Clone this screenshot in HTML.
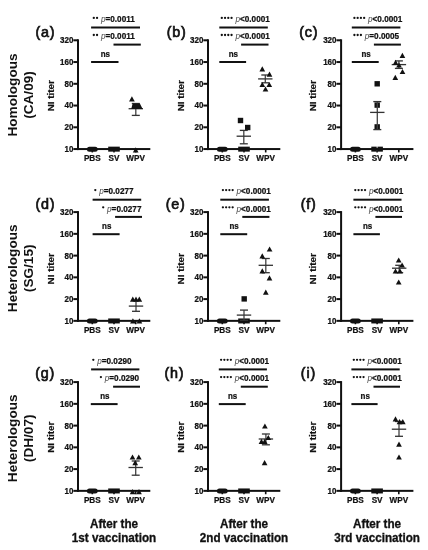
<!DOCTYPE html>
<html><head><meta charset="utf-8"><style>
html,body{margin:0;padding:0;background:#fff;}
body{width:428px;height:550px;overflow:hidden;}
svg{display:block;will-change:transform;filter:blur(0.35px);}
text{font-family:"Liberation Sans", sans-serif;fill:#111;}
</style></head><body>
<svg width="428" height="550" viewBox="0 0 428 550">
<rect width="428" height="550" fill="#fff"/>
<g><rect x="77.00" y="39.30" width="2.0" height="110.75" fill="#111"/><rect x="77.00" y="148.05" width="73.30" height="2.0" fill="#111"/><rect x="73.40" y="39.30" width="4.60" height="2.0" fill="#111"/><text transform="translate(73.40 43.20) scale(1 1.1)" font-size="8" font-weight="bold" text-anchor="end" stroke="#111" stroke-width="0.22">320</text><rect x="73.40" y="61.05" width="4.60" height="2.0" fill="#111"/><text transform="translate(73.40 64.95) scale(1 1.1)" font-size="8" font-weight="bold" text-anchor="end" stroke="#111" stroke-width="0.22">160</text><rect x="73.40" y="82.80" width="4.60" height="2.0" fill="#111"/><text transform="translate(73.40 86.70) scale(1 1.1)" font-size="8" font-weight="bold" text-anchor="end" stroke="#111" stroke-width="0.22">80</text><rect x="73.40" y="104.55" width="4.60" height="2.0" fill="#111"/><text transform="translate(73.40 108.45) scale(1 1.1)" font-size="8" font-weight="bold" text-anchor="end" stroke="#111" stroke-width="0.22">40</text><rect x="73.40" y="126.30" width="4.60" height="2.0" fill="#111"/><text transform="translate(73.40 130.20) scale(1 1.1)" font-size="8" font-weight="bold" text-anchor="end" stroke="#111" stroke-width="0.22">20</text><rect x="73.40" y="148.05" width="4.60" height="2.0" fill="#111"/><text transform="translate(73.40 151.95) scale(1 1.1)" font-size="8" font-weight="bold" text-anchor="end" stroke="#111" stroke-width="0.22">10</text><rect x="91.50" y="149.05" width="1.6" height="3.40" fill="#111"/><text transform="translate(92.30 161.15) scale(1 1.1)" font-size="8.2" font-weight="bold" text-anchor="middle" stroke="#111" stroke-width="0.22">PBS</text><rect x="113.20" y="149.05" width="1.6" height="3.40" fill="#111"/><text transform="translate(114.00 161.15) scale(1 1.1)" font-size="8.2" font-weight="bold" text-anchor="middle" stroke="#111" stroke-width="0.22">SV</text><rect x="134.90" y="149.05" width="1.6" height="3.40" fill="#111"/><text transform="translate(135.70 161.15) scale(1 1.1)" font-size="8.2" font-weight="bold" text-anchor="middle" stroke="#111" stroke-width="0.22">WPV</text><text font-size="9" font-weight="bold" text-anchor="middle" stroke="#111" stroke-width="0.2" transform="translate(54.30 95.70) rotate(-90) scale(1.1 1)">NI titer</text><text transform="translate(45.40 37.40) scale(1 1.0)" font-size="14.3" font-weight="normal" text-anchor="middle" letter-spacing="0.8" stroke="#111" stroke-width="0.7">(a)</text><rect x="91.10" y="26.50" width="48.90" height="2.0" fill="#111"/><rect x="113.50" y="43.60" width="27.30" height="2.0" fill="#111"/><rect x="91.10" y="61.00" width="27.40" height="2.0" fill="#111"/><circle cx="93.80" cy="17.90" r="1.15" fill="#111"/><circle cx="97.05" cy="17.90" r="1.15" fill="#111"/><text transform="translate(100.90 22.20) scale(1 1.1)" font-size="8.2" font-weight="bold"><tspan font-style="italic" font-weight="normal" fill="#444">p</tspan><tspan stroke="#111" stroke-width="0.22">=0.0011</tspan></text><circle cx="93.80" cy="35.00" r="1.15" fill="#111"/><circle cx="97.05" cy="35.00" r="1.15" fill="#111"/><text transform="translate(100.90 39.30) scale(1 1.1)" font-size="8.2" font-weight="bold"><tspan font-style="italic" font-weight="normal" fill="#444">p</tspan><tspan stroke="#111" stroke-width="0.22">=0.0011</tspan></text><text transform="translate(100.70 56.70) scale(1 1.1)" font-size="8" font-weight="bold" text-anchor="start" stroke="#111" stroke-width="0.22">ns</text><rect x="86.90" y="146.65" width="10.8" height="5.0" rx="2.5" fill="#111"/></g><g><rect x="207.00" y="39.30" width="2.0" height="110.75" fill="#111"/><rect x="207.00" y="148.05" width="73.30" height="2.0" fill="#111"/><rect x="203.40" y="39.30" width="4.60" height="2.0" fill="#111"/><text transform="translate(203.40 43.20) scale(1 1.1)" font-size="8" font-weight="bold" text-anchor="end" stroke="#111" stroke-width="0.22">320</text><rect x="203.40" y="61.05" width="4.60" height="2.0" fill="#111"/><text transform="translate(203.40 64.95) scale(1 1.1)" font-size="8" font-weight="bold" text-anchor="end" stroke="#111" stroke-width="0.22">160</text><rect x="203.40" y="82.80" width="4.60" height="2.0" fill="#111"/><text transform="translate(203.40 86.70) scale(1 1.1)" font-size="8" font-weight="bold" text-anchor="end" stroke="#111" stroke-width="0.22">80</text><rect x="203.40" y="104.55" width="4.60" height="2.0" fill="#111"/><text transform="translate(203.40 108.45) scale(1 1.1)" font-size="8" font-weight="bold" text-anchor="end" stroke="#111" stroke-width="0.22">40</text><rect x="203.40" y="126.30" width="4.60" height="2.0" fill="#111"/><text transform="translate(203.40 130.20) scale(1 1.1)" font-size="8" font-weight="bold" text-anchor="end" stroke="#111" stroke-width="0.22">20</text><rect x="203.40" y="148.05" width="4.60" height="2.0" fill="#111"/><text transform="translate(203.40 151.95) scale(1 1.1)" font-size="8" font-weight="bold" text-anchor="end" stroke="#111" stroke-width="0.22">10</text><rect x="221.50" y="149.05" width="1.6" height="3.40" fill="#111"/><text transform="translate(222.30 161.15) scale(1 1.1)" font-size="8.2" font-weight="bold" text-anchor="middle" stroke="#111" stroke-width="0.22">PBS</text><rect x="243.20" y="149.05" width="1.6" height="3.40" fill="#111"/><text transform="translate(244.00 161.15) scale(1 1.1)" font-size="8.2" font-weight="bold" text-anchor="middle" stroke="#111" stroke-width="0.22">SV</text><rect x="264.90" y="149.05" width="1.6" height="3.40" fill="#111"/><text transform="translate(265.70 161.15) scale(1 1.1)" font-size="8.2" font-weight="bold" text-anchor="middle" stroke="#111" stroke-width="0.22">WPV</text><text font-size="9" font-weight="bold" text-anchor="middle" stroke="#111" stroke-width="0.2" transform="translate(183.70 95.70) rotate(-90) scale(1.1 1)">NI titer</text><text transform="translate(176.70 37.40) scale(1 1.0)" font-size="14.3" font-weight="normal" text-anchor="middle" letter-spacing="0.8" stroke="#111" stroke-width="0.7">(b)</text><rect x="219.30" y="26.50" width="48.50" height="2.0" fill="#111"/><rect x="241.10" y="43.60" width="27.40" height="2.0" fill="#111"/><rect x="219.30" y="61.00" width="26.80" height="2.0" fill="#111"/><circle cx="221.80" cy="17.90" r="1.15" fill="#111"/><circle cx="225.05" cy="17.90" r="1.15" fill="#111"/><circle cx="228.30" cy="17.90" r="1.15" fill="#111"/><circle cx="231.55" cy="17.90" r="1.15" fill="#111"/><text transform="translate(235.40 22.20) scale(1 1.1)" font-size="8.2" font-weight="bold"><tspan font-style="italic" font-weight="normal" fill="#444">p</tspan><tspan stroke="#111" stroke-width="0.22">&lt;0.0001</tspan></text><circle cx="221.80" cy="35.00" r="1.15" fill="#111"/><circle cx="225.05" cy="35.00" r="1.15" fill="#111"/><circle cx="228.30" cy="35.00" r="1.15" fill="#111"/><circle cx="231.55" cy="35.00" r="1.15" fill="#111"/><text transform="translate(235.40 39.30) scale(1 1.1)" font-size="8.2" font-weight="bold"><tspan font-style="italic" font-weight="normal" fill="#444">p</tspan><tspan stroke="#111" stroke-width="0.22">&lt;0.0001</tspan></text><text transform="translate(228.70 56.70) scale(1 1.1)" font-size="8" font-weight="bold" text-anchor="start" stroke="#111" stroke-width="0.22">ns</text><rect x="216.90" y="146.65" width="10.8" height="5.0" rx="2.5" fill="#111"/></g><g><rect x="340.10" y="39.30" width="2.0" height="110.75" fill="#111"/><rect x="340.10" y="148.05" width="73.30" height="2.0" fill="#111"/><rect x="336.50" y="39.30" width="4.60" height="2.0" fill="#111"/><text transform="translate(336.50 43.20) scale(1 1.1)" font-size="8" font-weight="bold" text-anchor="end" stroke="#111" stroke-width="0.22">320</text><rect x="336.50" y="61.05" width="4.60" height="2.0" fill="#111"/><text transform="translate(336.50 64.95) scale(1 1.1)" font-size="8" font-weight="bold" text-anchor="end" stroke="#111" stroke-width="0.22">160</text><rect x="336.50" y="82.80" width="4.60" height="2.0" fill="#111"/><text transform="translate(336.50 86.70) scale(1 1.1)" font-size="8" font-weight="bold" text-anchor="end" stroke="#111" stroke-width="0.22">80</text><rect x="336.50" y="104.55" width="4.60" height="2.0" fill="#111"/><text transform="translate(336.50 108.45) scale(1 1.1)" font-size="8" font-weight="bold" text-anchor="end" stroke="#111" stroke-width="0.22">40</text><rect x="336.50" y="126.30" width="4.60" height="2.0" fill="#111"/><text transform="translate(336.50 130.20) scale(1 1.1)" font-size="8" font-weight="bold" text-anchor="end" stroke="#111" stroke-width="0.22">20</text><rect x="336.50" y="148.05" width="4.60" height="2.0" fill="#111"/><text transform="translate(336.50 151.95) scale(1 1.1)" font-size="8" font-weight="bold" text-anchor="end" stroke="#111" stroke-width="0.22">10</text><rect x="354.60" y="149.05" width="1.6" height="3.40" fill="#111"/><text transform="translate(355.40 161.15) scale(1 1.1)" font-size="8.2" font-weight="bold" text-anchor="middle" stroke="#111" stroke-width="0.22">PBS</text><rect x="376.30" y="149.05" width="1.6" height="3.40" fill="#111"/><text transform="translate(377.10 161.15) scale(1 1.1)" font-size="8.2" font-weight="bold" text-anchor="middle" stroke="#111" stroke-width="0.22">SV</text><rect x="398.00" y="149.05" width="1.6" height="3.40" fill="#111"/><text transform="translate(398.80 161.15) scale(1 1.1)" font-size="8.2" font-weight="bold" text-anchor="middle" stroke="#111" stroke-width="0.22">WPV</text><text font-size="9" font-weight="bold" text-anchor="middle" stroke="#111" stroke-width="0.2" transform="translate(316.20 95.70) rotate(-90) scale(1.1 1)">NI titer</text><text transform="translate(308.80 37.40) scale(1 1.0)" font-size="14.3" font-weight="normal" text-anchor="middle" letter-spacing="0.8" stroke="#111" stroke-width="0.7">(c)</text><rect x="351.80" y="26.50" width="48.60" height="2.0" fill="#111"/><rect x="373.90" y="43.60" width="27.00" height="2.0" fill="#111"/><rect x="351.80" y="61.00" width="26.90" height="2.0" fill="#111"/><circle cx="354.40" cy="17.90" r="1.15" fill="#111"/><circle cx="357.65" cy="17.90" r="1.15" fill="#111"/><circle cx="360.90" cy="17.90" r="1.15" fill="#111"/><circle cx="364.15" cy="17.90" r="1.15" fill="#111"/><text transform="translate(368.00 22.20) scale(1 1.1)" font-size="8.2" font-weight="bold"><tspan font-style="italic" font-weight="normal" fill="#444">p</tspan><tspan stroke="#111" stroke-width="0.22">&lt;0.0001</tspan></text><circle cx="354.40" cy="35.00" r="1.15" fill="#111"/><circle cx="357.65" cy="35.00" r="1.15" fill="#111"/><circle cx="360.90" cy="35.00" r="1.15" fill="#111"/><text transform="translate(364.75 39.30) scale(1 1.1)" font-size="8.2" font-weight="bold"><tspan font-style="italic" font-weight="normal" fill="#444">p</tspan><tspan stroke="#111" stroke-width="0.22">=0.0005</tspan></text><text transform="translate(361.40 56.70) scale(1 1.1)" font-size="8" font-weight="bold" text-anchor="start" stroke="#111" stroke-width="0.22">ns</text><rect x="350.00" y="146.65" width="10.8" height="5.0" rx="2.5" fill="#111"/></g><g><rect x="77.00" y="211.10" width="2.0" height="110.75" fill="#111"/><rect x="77.00" y="319.85" width="73.30" height="2.0" fill="#111"/><rect x="73.40" y="211.10" width="4.60" height="2.0" fill="#111"/><text transform="translate(73.40 215.00) scale(1 1.1)" font-size="8" font-weight="bold" text-anchor="end" stroke="#111" stroke-width="0.22">320</text><rect x="73.40" y="232.85" width="4.60" height="2.0" fill="#111"/><text transform="translate(73.40 236.75) scale(1 1.1)" font-size="8" font-weight="bold" text-anchor="end" stroke="#111" stroke-width="0.22">160</text><rect x="73.40" y="254.60" width="4.60" height="2.0" fill="#111"/><text transform="translate(73.40 258.50) scale(1 1.1)" font-size="8" font-weight="bold" text-anchor="end" stroke="#111" stroke-width="0.22">80</text><rect x="73.40" y="276.35" width="4.60" height="2.0" fill="#111"/><text transform="translate(73.40 280.25) scale(1 1.1)" font-size="8" font-weight="bold" text-anchor="end" stroke="#111" stroke-width="0.22">40</text><rect x="73.40" y="298.10" width="4.60" height="2.0" fill="#111"/><text transform="translate(73.40 302.00) scale(1 1.1)" font-size="8" font-weight="bold" text-anchor="end" stroke="#111" stroke-width="0.22">20</text><rect x="73.40" y="319.85" width="4.60" height="2.0" fill="#111"/><text transform="translate(73.40 323.75) scale(1 1.1)" font-size="8" font-weight="bold" text-anchor="end" stroke="#111" stroke-width="0.22">10</text><rect x="91.50" y="320.85" width="1.6" height="3.40" fill="#111"/><text transform="translate(92.30 332.95) scale(1 1.1)" font-size="8.2" font-weight="bold" text-anchor="middle" stroke="#111" stroke-width="0.22">PBS</text><rect x="113.20" y="320.85" width="1.6" height="3.40" fill="#111"/><text transform="translate(114.00 332.95) scale(1 1.1)" font-size="8.2" font-weight="bold" text-anchor="middle" stroke="#111" stroke-width="0.22">SV</text><rect x="134.90" y="320.85" width="1.6" height="3.40" fill="#111"/><text transform="translate(135.70 332.95) scale(1 1.1)" font-size="8.2" font-weight="bold" text-anchor="middle" stroke="#111" stroke-width="0.22">WPV</text><text font-size="9" font-weight="bold" text-anchor="middle" stroke="#111" stroke-width="0.2" transform="translate(54.30 268.80) rotate(-90) scale(1.1 1)">NI titer</text><text transform="translate(45.35 208.80) scale(1 1.0)" font-size="14.3" font-weight="normal" text-anchor="middle" letter-spacing="0.8" stroke="#111" stroke-width="0.7">(d)</text><rect x="92.60" y="198.70" width="48.60" height="2.0" fill="#111"/><rect x="115.10" y="215.90" width="26.90" height="2.0" fill="#111"/><rect x="92.60" y="233.20" width="27.00" height="2.0" fill="#111"/><circle cx="95.30" cy="190.10" r="1.15" fill="#111"/><text transform="translate(99.15 194.40) scale(1 1.1)" font-size="8.2" font-weight="bold"><tspan font-style="italic" font-weight="normal" fill="#444">p</tspan><tspan stroke="#111" stroke-width="0.22">=0.0277</tspan></text><circle cx="103.20" cy="207.30" r="1.15" fill="#111"/><text transform="translate(107.05 211.60) scale(1 1.1)" font-size="8.2" font-weight="bold"><tspan font-style="italic" font-weight="normal" fill="#444">p</tspan><tspan stroke="#111" stroke-width="0.22">=0.0277</tspan></text><text transform="translate(102.00 228.90) scale(1 1.1)" font-size="8" font-weight="bold" text-anchor="start" stroke="#111" stroke-width="0.22">ns</text><rect x="86.90" y="318.45" width="10.8" height="5.0" rx="2.5" fill="#111"/></g><g><rect x="207.00" y="211.10" width="2.0" height="110.75" fill="#111"/><rect x="207.00" y="319.85" width="73.30" height="2.0" fill="#111"/><rect x="203.40" y="211.10" width="4.60" height="2.0" fill="#111"/><text transform="translate(203.40 215.00) scale(1 1.1)" font-size="8" font-weight="bold" text-anchor="end" stroke="#111" stroke-width="0.22">320</text><rect x="203.40" y="232.85" width="4.60" height="2.0" fill="#111"/><text transform="translate(203.40 236.75) scale(1 1.1)" font-size="8" font-weight="bold" text-anchor="end" stroke="#111" stroke-width="0.22">160</text><rect x="203.40" y="254.60" width="4.60" height="2.0" fill="#111"/><text transform="translate(203.40 258.50) scale(1 1.1)" font-size="8" font-weight="bold" text-anchor="end" stroke="#111" stroke-width="0.22">80</text><rect x="203.40" y="276.35" width="4.60" height="2.0" fill="#111"/><text transform="translate(203.40 280.25) scale(1 1.1)" font-size="8" font-weight="bold" text-anchor="end" stroke="#111" stroke-width="0.22">40</text><rect x="203.40" y="298.10" width="4.60" height="2.0" fill="#111"/><text transform="translate(203.40 302.00) scale(1 1.1)" font-size="8" font-weight="bold" text-anchor="end" stroke="#111" stroke-width="0.22">20</text><rect x="203.40" y="319.85" width="4.60" height="2.0" fill="#111"/><text transform="translate(203.40 323.75) scale(1 1.1)" font-size="8" font-weight="bold" text-anchor="end" stroke="#111" stroke-width="0.22">10</text><rect x="221.50" y="320.85" width="1.6" height="3.40" fill="#111"/><text transform="translate(222.30 332.95) scale(1 1.1)" font-size="8.2" font-weight="bold" text-anchor="middle" stroke="#111" stroke-width="0.22">PBS</text><rect x="243.20" y="320.85" width="1.6" height="3.40" fill="#111"/><text transform="translate(244.00 332.95) scale(1 1.1)" font-size="8.2" font-weight="bold" text-anchor="middle" stroke="#111" stroke-width="0.22">SV</text><rect x="264.90" y="320.85" width="1.6" height="3.40" fill="#111"/><text transform="translate(265.70 332.95) scale(1 1.1)" font-size="8.2" font-weight="bold" text-anchor="middle" stroke="#111" stroke-width="0.22">WPV</text><text font-size="9" font-weight="bold" text-anchor="middle" stroke="#111" stroke-width="0.2" transform="translate(183.70 268.80) rotate(-90) scale(1.1 1)">NI titer</text><text transform="translate(175.60 208.80) scale(1 1.0)" font-size="14.3" font-weight="normal" text-anchor="middle" letter-spacing="0.8" stroke="#111" stroke-width="0.7">(e)</text><rect x="220.30" y="198.70" width="48.60" height="2.0" fill="#111"/><rect x="242.30" y="215.90" width="27.10" height="2.0" fill="#111"/><rect x="220.30" y="233.20" width="26.90" height="2.0" fill="#111"/><circle cx="222.90" cy="190.10" r="1.15" fill="#111"/><circle cx="226.15" cy="190.10" r="1.15" fill="#111"/><circle cx="229.40" cy="190.10" r="1.15" fill="#111"/><circle cx="232.65" cy="190.10" r="1.15" fill="#111"/><text transform="translate(236.50 194.40) scale(1 1.1)" font-size="8.2" font-weight="bold"><tspan font-style="italic" font-weight="normal" fill="#444">p</tspan><tspan stroke="#111" stroke-width="0.22">&lt;0.0001</tspan></text><circle cx="222.90" cy="207.30" r="1.15" fill="#111"/><circle cx="226.15" cy="207.30" r="1.15" fill="#111"/><circle cx="229.40" cy="207.30" r="1.15" fill="#111"/><circle cx="232.65" cy="207.30" r="1.15" fill="#111"/><text transform="translate(236.50 211.60) scale(1 1.1)" font-size="8.2" font-weight="bold"><tspan font-style="italic" font-weight="normal" fill="#444">p</tspan><tspan stroke="#111" stroke-width="0.22">&lt;0.0001</tspan></text><text transform="translate(229.40 228.90) scale(1 1.1)" font-size="8" font-weight="bold" text-anchor="start" stroke="#111" stroke-width="0.22">ns</text><rect x="216.90" y="318.45" width="10.8" height="5.0" rx="2.5" fill="#111"/></g><g><rect x="340.10" y="211.10" width="2.0" height="110.75" fill="#111"/><rect x="340.10" y="319.85" width="73.30" height="2.0" fill="#111"/><rect x="336.50" y="211.10" width="4.60" height="2.0" fill="#111"/><text transform="translate(336.50 215.00) scale(1 1.1)" font-size="8" font-weight="bold" text-anchor="end" stroke="#111" stroke-width="0.22">320</text><rect x="336.50" y="232.85" width="4.60" height="2.0" fill="#111"/><text transform="translate(336.50 236.75) scale(1 1.1)" font-size="8" font-weight="bold" text-anchor="end" stroke="#111" stroke-width="0.22">160</text><rect x="336.50" y="254.60" width="4.60" height="2.0" fill="#111"/><text transform="translate(336.50 258.50) scale(1 1.1)" font-size="8" font-weight="bold" text-anchor="end" stroke="#111" stroke-width="0.22">80</text><rect x="336.50" y="276.35" width="4.60" height="2.0" fill="#111"/><text transform="translate(336.50 280.25) scale(1 1.1)" font-size="8" font-weight="bold" text-anchor="end" stroke="#111" stroke-width="0.22">40</text><rect x="336.50" y="298.10" width="4.60" height="2.0" fill="#111"/><text transform="translate(336.50 302.00) scale(1 1.1)" font-size="8" font-weight="bold" text-anchor="end" stroke="#111" stroke-width="0.22">20</text><rect x="336.50" y="319.85" width="4.60" height="2.0" fill="#111"/><text transform="translate(336.50 323.75) scale(1 1.1)" font-size="8" font-weight="bold" text-anchor="end" stroke="#111" stroke-width="0.22">10</text><rect x="354.60" y="320.85" width="1.6" height="3.40" fill="#111"/><text transform="translate(355.40 332.95) scale(1 1.1)" font-size="8.2" font-weight="bold" text-anchor="middle" stroke="#111" stroke-width="0.22">PBS</text><rect x="376.30" y="320.85" width="1.6" height="3.40" fill="#111"/><text transform="translate(377.10 332.95) scale(1 1.1)" font-size="8.2" font-weight="bold" text-anchor="middle" stroke="#111" stroke-width="0.22">SV</text><rect x="398.00" y="320.85" width="1.6" height="3.40" fill="#111"/><text transform="translate(398.80 332.95) scale(1 1.1)" font-size="8.2" font-weight="bold" text-anchor="middle" stroke="#111" stroke-width="0.22">WPV</text><text font-size="9" font-weight="bold" text-anchor="middle" stroke="#111" stroke-width="0.2" transform="translate(316.20 268.80) rotate(-90) scale(1.1 1)">NI titer</text><text transform="translate(308.60 208.80) scale(1 1.0)" font-size="14.3" font-weight="normal" text-anchor="middle" letter-spacing="0.8" stroke="#111" stroke-width="0.7">(f)</text><rect x="353.40" y="198.70" width="48.10" height="2.0" fill="#111"/><rect x="375.40" y="215.90" width="26.60" height="2.0" fill="#111"/><rect x="353.40" y="233.20" width="26.50" height="2.0" fill="#111"/><circle cx="355.30" cy="190.10" r="1.15" fill="#111"/><circle cx="358.55" cy="190.10" r="1.15" fill="#111"/><circle cx="361.80" cy="190.10" r="1.15" fill="#111"/><circle cx="365.05" cy="190.10" r="1.15" fill="#111"/><text transform="translate(368.90 194.40) scale(1 1.1)" font-size="8.2" font-weight="bold"><tspan font-style="italic" font-weight="normal" fill="#444">p</tspan><tspan stroke="#111" stroke-width="0.22">&lt;0.0001</tspan></text><circle cx="355.30" cy="207.30" r="1.15" fill="#111"/><circle cx="358.55" cy="207.30" r="1.15" fill="#111"/><circle cx="361.80" cy="207.30" r="1.15" fill="#111"/><circle cx="365.05" cy="207.30" r="1.15" fill="#111"/><text transform="translate(368.90 211.60) scale(1 1.1)" font-size="8.2" font-weight="bold"><tspan font-style="italic" font-weight="normal" fill="#444">p</tspan><tspan stroke="#111" stroke-width="0.22">&lt;0.0001</tspan></text><text transform="translate(362.90 228.90) scale(1 1.1)" font-size="8" font-weight="bold" text-anchor="start" stroke="#111" stroke-width="0.22">ns</text><rect x="350.00" y="318.45" width="10.8" height="5.0" rx="2.5" fill="#111"/></g><g><rect x="77.00" y="381.10" width="2.0" height="110.75" fill="#111"/><rect x="77.00" y="489.85" width="73.30" height="2.0" fill="#111"/><rect x="73.40" y="381.10" width="4.60" height="2.0" fill="#111"/><text transform="translate(73.40 385.00) scale(1 1.1)" font-size="8" font-weight="bold" text-anchor="end" stroke="#111" stroke-width="0.22">320</text><rect x="73.40" y="402.85" width="4.60" height="2.0" fill="#111"/><text transform="translate(73.40 406.75) scale(1 1.1)" font-size="8" font-weight="bold" text-anchor="end" stroke="#111" stroke-width="0.22">160</text><rect x="73.40" y="424.60" width="4.60" height="2.0" fill="#111"/><text transform="translate(73.40 428.50) scale(1 1.1)" font-size="8" font-weight="bold" text-anchor="end" stroke="#111" stroke-width="0.22">80</text><rect x="73.40" y="446.35" width="4.60" height="2.0" fill="#111"/><text transform="translate(73.40 450.25) scale(1 1.1)" font-size="8" font-weight="bold" text-anchor="end" stroke="#111" stroke-width="0.22">40</text><rect x="73.40" y="468.10" width="4.60" height="2.0" fill="#111"/><text transform="translate(73.40 472.00) scale(1 1.1)" font-size="8" font-weight="bold" text-anchor="end" stroke="#111" stroke-width="0.22">20</text><rect x="73.40" y="489.85" width="4.60" height="2.0" fill="#111"/><text transform="translate(73.40 493.75) scale(1 1.1)" font-size="8" font-weight="bold" text-anchor="end" stroke="#111" stroke-width="0.22">10</text><rect x="91.50" y="490.85" width="1.6" height="3.40" fill="#111"/><text transform="translate(92.30 502.95) scale(1 1.1)" font-size="8.2" font-weight="bold" text-anchor="middle" stroke="#111" stroke-width="0.22">PBS</text><rect x="113.20" y="490.85" width="1.6" height="3.40" fill="#111"/><text transform="translate(114.00 502.95) scale(1 1.1)" font-size="8.2" font-weight="bold" text-anchor="middle" stroke="#111" stroke-width="0.22">SV</text><rect x="134.90" y="490.85" width="1.6" height="3.40" fill="#111"/><text transform="translate(135.70 502.95) scale(1 1.1)" font-size="8.2" font-weight="bold" text-anchor="middle" stroke="#111" stroke-width="0.22">WPV</text><text font-size="9" font-weight="bold" text-anchor="middle" stroke="#111" stroke-width="0.2" transform="translate(54.30 437.20) rotate(-90) scale(1.1 1)">NI titer</text><text transform="translate(45.15 378.20) scale(1 1.0)" font-size="14.3" font-weight="normal" text-anchor="middle" letter-spacing="0.8" stroke="#111" stroke-width="0.7">(g)</text><rect x="91.10" y="368.40" width="48.30" height="2.0" fill="#111"/><rect x="113.10" y="385.70" width="26.90" height="2.0" fill="#111"/><rect x="90.80" y="403.10" width="26.80" height="2.0" fill="#111"/><circle cx="93.30" cy="359.80" r="1.15" fill="#111"/><text transform="translate(97.15 364.10) scale(1 1.1)" font-size="8.2" font-weight="bold"><tspan font-style="italic" font-weight="normal" fill="#444">p</tspan><tspan stroke="#111" stroke-width="0.22">=0.0290</tspan></text><circle cx="100.90" cy="377.10" r="1.15" fill="#111"/><text transform="translate(104.75 381.40) scale(1 1.1)" font-size="8.2" font-weight="bold"><tspan font-style="italic" font-weight="normal" fill="#444">p</tspan><tspan stroke="#111" stroke-width="0.22">=0.0290</tspan></text><text transform="translate(100.20 398.80) scale(1 1.1)" font-size="8" font-weight="bold" text-anchor="start" stroke="#111" stroke-width="0.22">ns</text><rect x="86.90" y="488.45" width="10.8" height="5.0" rx="2.5" fill="#111"/></g><g><rect x="207.00" y="381.10" width="2.0" height="110.75" fill="#111"/><rect x="207.00" y="489.85" width="73.30" height="2.0" fill="#111"/><rect x="203.40" y="381.10" width="4.60" height="2.0" fill="#111"/><text transform="translate(203.40 385.00) scale(1 1.1)" font-size="8" font-weight="bold" text-anchor="end" stroke="#111" stroke-width="0.22">320</text><rect x="203.40" y="402.85" width="4.60" height="2.0" fill="#111"/><text transform="translate(203.40 406.75) scale(1 1.1)" font-size="8" font-weight="bold" text-anchor="end" stroke="#111" stroke-width="0.22">160</text><rect x="203.40" y="424.60" width="4.60" height="2.0" fill="#111"/><text transform="translate(203.40 428.50) scale(1 1.1)" font-size="8" font-weight="bold" text-anchor="end" stroke="#111" stroke-width="0.22">80</text><rect x="203.40" y="446.35" width="4.60" height="2.0" fill="#111"/><text transform="translate(203.40 450.25) scale(1 1.1)" font-size="8" font-weight="bold" text-anchor="end" stroke="#111" stroke-width="0.22">40</text><rect x="203.40" y="468.10" width="4.60" height="2.0" fill="#111"/><text transform="translate(203.40 472.00) scale(1 1.1)" font-size="8" font-weight="bold" text-anchor="end" stroke="#111" stroke-width="0.22">20</text><rect x="203.40" y="489.85" width="4.60" height="2.0" fill="#111"/><text transform="translate(203.40 493.75) scale(1 1.1)" font-size="8" font-weight="bold" text-anchor="end" stroke="#111" stroke-width="0.22">10</text><rect x="221.50" y="490.85" width="1.6" height="3.40" fill="#111"/><text transform="translate(222.30 502.95) scale(1 1.1)" font-size="8.2" font-weight="bold" text-anchor="middle" stroke="#111" stroke-width="0.22">PBS</text><rect x="243.20" y="490.85" width="1.6" height="3.40" fill="#111"/><text transform="translate(244.00 502.95) scale(1 1.1)" font-size="8.2" font-weight="bold" text-anchor="middle" stroke="#111" stroke-width="0.22">SV</text><rect x="264.90" y="490.85" width="1.6" height="3.40" fill="#111"/><text transform="translate(265.70 502.95) scale(1 1.1)" font-size="8.2" font-weight="bold" text-anchor="middle" stroke="#111" stroke-width="0.22">WPV</text><text font-size="9" font-weight="bold" text-anchor="middle" stroke="#111" stroke-width="0.2" transform="translate(183.70 437.20) rotate(-90) scale(1.1 1)">NI titer</text><text transform="translate(174.40 378.20) scale(1 1.0)" font-size="14.3" font-weight="normal" text-anchor="middle" letter-spacing="0.8" stroke="#111" stroke-width="0.7">(h)</text><rect x="218.80" y="368.40" width="48.10" height="2.0" fill="#111"/><rect x="240.80" y="385.70" width="27.00" height="2.0" fill="#111"/><rect x="218.80" y="403.10" width="26.90" height="2.0" fill="#111"/><circle cx="221.10" cy="359.80" r="1.15" fill="#111"/><circle cx="224.35" cy="359.80" r="1.15" fill="#111"/><circle cx="227.60" cy="359.80" r="1.15" fill="#111"/><circle cx="230.85" cy="359.80" r="1.15" fill="#111"/><text transform="translate(234.70 364.10) scale(1 1.1)" font-size="8.2" font-weight="bold"><tspan font-style="italic" font-weight="normal" fill="#444">p</tspan><tspan stroke="#111" stroke-width="0.22">&lt;0.0001</tspan></text><circle cx="221.10" cy="377.10" r="1.15" fill="#111"/><circle cx="224.35" cy="377.10" r="1.15" fill="#111"/><circle cx="227.60" cy="377.10" r="1.15" fill="#111"/><circle cx="230.85" cy="377.10" r="1.15" fill="#111"/><text transform="translate(234.70 381.40) scale(1 1.1)" font-size="8.2" font-weight="bold"><tspan font-style="italic" font-weight="normal" fill="#444">p</tspan><tspan stroke="#111" stroke-width="0.22">&lt;0.0001</tspan></text><text transform="translate(227.90 398.80) scale(1 1.1)" font-size="8" font-weight="bold" text-anchor="start" stroke="#111" stroke-width="0.22">ns</text><rect x="216.90" y="488.45" width="10.8" height="5.0" rx="2.5" fill="#111"/></g><g><rect x="340.10" y="381.10" width="2.0" height="110.75" fill="#111"/><rect x="340.10" y="489.85" width="73.30" height="2.0" fill="#111"/><rect x="336.50" y="381.10" width="4.60" height="2.0" fill="#111"/><text transform="translate(336.50 385.00) scale(1 1.1)" font-size="8" font-weight="bold" text-anchor="end" stroke="#111" stroke-width="0.22">320</text><rect x="336.50" y="402.85" width="4.60" height="2.0" fill="#111"/><text transform="translate(336.50 406.75) scale(1 1.1)" font-size="8" font-weight="bold" text-anchor="end" stroke="#111" stroke-width="0.22">160</text><rect x="336.50" y="424.60" width="4.60" height="2.0" fill="#111"/><text transform="translate(336.50 428.50) scale(1 1.1)" font-size="8" font-weight="bold" text-anchor="end" stroke="#111" stroke-width="0.22">80</text><rect x="336.50" y="446.35" width="4.60" height="2.0" fill="#111"/><text transform="translate(336.50 450.25) scale(1 1.1)" font-size="8" font-weight="bold" text-anchor="end" stroke="#111" stroke-width="0.22">40</text><rect x="336.50" y="468.10" width="4.60" height="2.0" fill="#111"/><text transform="translate(336.50 472.00) scale(1 1.1)" font-size="8" font-weight="bold" text-anchor="end" stroke="#111" stroke-width="0.22">20</text><rect x="336.50" y="489.85" width="4.60" height="2.0" fill="#111"/><text transform="translate(336.50 493.75) scale(1 1.1)" font-size="8" font-weight="bold" text-anchor="end" stroke="#111" stroke-width="0.22">10</text><rect x="354.60" y="490.85" width="1.6" height="3.40" fill="#111"/><text transform="translate(355.40 502.95) scale(1 1.1)" font-size="8.2" font-weight="bold" text-anchor="middle" stroke="#111" stroke-width="0.22">PBS</text><rect x="376.30" y="490.85" width="1.6" height="3.40" fill="#111"/><text transform="translate(377.10 502.95) scale(1 1.1)" font-size="8.2" font-weight="bold" text-anchor="middle" stroke="#111" stroke-width="0.22">SV</text><rect x="398.00" y="490.85" width="1.6" height="3.40" fill="#111"/><text transform="translate(398.80 502.95) scale(1 1.1)" font-size="8.2" font-weight="bold" text-anchor="middle" stroke="#111" stroke-width="0.22">WPV</text><text font-size="9" font-weight="bold" text-anchor="middle" stroke="#111" stroke-width="0.2" transform="translate(316.20 437.20) rotate(-90) scale(1.1 1)">NI titer</text><text transform="translate(308.40 378.20) scale(1 1.0)" font-size="14.3" font-weight="normal" text-anchor="middle" letter-spacing="0.8" stroke="#111" stroke-width="0.7">(i)</text><rect x="351.40" y="368.40" width="48.30" height="2.0" fill="#111"/><rect x="373.50" y="385.70" width="26.50" height="2.0" fill="#111"/><rect x="351.40" y="403.10" width="26.20" height="2.0" fill="#111"/><circle cx="353.80" cy="359.80" r="1.15" fill="#111"/><circle cx="357.05" cy="359.80" r="1.15" fill="#111"/><circle cx="360.30" cy="359.80" r="1.15" fill="#111"/><circle cx="363.55" cy="359.80" r="1.15" fill="#111"/><text transform="translate(367.40 364.10) scale(1 1.1)" font-size="8.2" font-weight="bold"><tspan font-style="italic" font-weight="normal" fill="#444">p</tspan><tspan stroke="#111" stroke-width="0.22">&lt;0.0001</tspan></text><circle cx="353.80" cy="377.10" r="1.15" fill="#111"/><circle cx="357.05" cy="377.10" r="1.15" fill="#111"/><circle cx="360.30" cy="377.10" r="1.15" fill="#111"/><circle cx="363.55" cy="377.10" r="1.15" fill="#111"/><text transform="translate(367.40 381.40) scale(1 1.1)" font-size="8.2" font-weight="bold"><tspan font-style="italic" font-weight="normal" fill="#444">p</tspan><tspan stroke="#111" stroke-width="0.22">&lt;0.0001</tspan></text><text transform="translate(360.50 398.80) scale(1 1.1)" font-size="8" font-weight="bold" text-anchor="start" stroke="#111" stroke-width="0.22">ns</text><rect x="350.00" y="488.45" width="10.8" height="5.0" rx="2.5" fill="#111"/></g>
<rect x="108.20" y="146.65" width="11.6" height="5.0" fill="#111"/><rect x="135.15" y="103.50" width="1.3" height="11.90" fill="#444"/><rect x="128.60" y="108.05" width="14.40" height="1.3" fill="#333"/><rect x="131.80" y="102.85" width="8.00" height="1.3" fill="#333"/><rect x="131.80" y="114.75" width="8.00" height="1.3" fill="#333"/><path d="M131.90 96.30L134.75 101.50L129.05 101.50Z" fill="#111"/><path d="M132.6 103.6L139.9 103.6L142.6 108.9L131.3 108.9Z" fill="#111"/><path d="M135.70 147.20L138.55 152.40L132.85 152.40Z" fill="#111"/><rect x="238.20" y="146.65" width="11.6" height="5.0" fill="#111"/><rect x="237.80" y="117.80" width="5.4" height="5.4" fill="#111"/><rect x="245.00" y="124.80" width="5.4" height="5.4" fill="#111"/><rect x="243.15" y="130.40" width="1.3" height="13.40" fill="#444"/><rect x="236.60" y="135.55" width="14.40" height="1.3" fill="#333"/><rect x="239.80" y="129.75" width="8.00" height="1.3" fill="#333"/><rect x="239.80" y="143.15" width="8.00" height="1.3" fill="#333"/><rect x="264.65" y="75.00" width="1.3" height="7.80" fill="#444"/><rect x="258.10" y="78.25" width="14.40" height="1.3" fill="#333"/><rect x="261.30" y="74.35" width="8.00" height="1.3" fill="#333"/><rect x="261.30" y="82.15" width="8.00" height="1.3" fill="#333"/><path d="M262.30 66.30L265.15 71.50L259.45 71.50Z" fill="#111"/><path d="M269.50 71.60L272.35 76.80L266.65 76.80Z" fill="#111"/><path d="M262.30 81.90L265.15 87.10L259.45 87.10Z" fill="#111"/><path d="M269.30 81.90L272.15 87.10L266.45 87.10Z" fill="#111"/><path d="M265.50 86.40L268.35 91.60L262.65 91.60Z" fill="#111"/><rect x="371.30" y="146.65" width="5.4" height="5.0" fill="#111"/><rect x="377.50" y="146.65" width="5.4" height="5.0" fill="#111"/><rect x="374.50" y="81.10" width="5.4" height="5.4" fill="#111"/><rect x="374.50" y="102.40" width="5.4" height="5.4" fill="#111"/><rect x="374.50" y="124.20" width="5.4" height="5.4" fill="#111"/><rect x="376.65" y="101.60" width="1.3" height="28.00" fill="#444"/><rect x="370.10" y="111.75" width="14.40" height="1.3" fill="#333"/><rect x="373.30" y="100.95" width="8.00" height="1.3" fill="#333"/><rect x="373.30" y="128.95" width="8.00" height="1.3" fill="#333"/><rect x="398.25" y="60.90" width="1.3" height="7.50" fill="#444"/><rect x="391.70" y="63.95" width="14.40" height="1.3" fill="#333"/><rect x="394.90" y="60.25" width="8.00" height="1.3" fill="#333"/><rect x="394.90" y="67.75" width="8.00" height="1.3" fill="#333"/><path d="M402.40 52.80L405.25 58.00L399.55 58.00Z" fill="#111"/><path d="M395.60 59.70L398.45 64.90L392.75 64.90Z" fill="#111"/><path d="M402.50 68.90L405.35 74.10L399.65 74.10Z" fill="#111"/><path d="M395.30 74.80L398.15 80.00L392.45 80.00Z" fill="#111"/><path d="M399.00 62.40L401.85 67.60L396.15 67.60Z" fill="#111"/><rect x="108.20" y="318.45" width="11.6" height="5.0" fill="#111"/><rect x="135.35" y="300.50" width="1.3" height="10.80" fill="#444"/><rect x="128.80" y="305.45" width="14.40" height="1.3" fill="#333"/><rect x="132.00" y="299.85" width="8.00" height="1.3" fill="#333"/><rect x="132.00" y="310.65" width="8.00" height="1.3" fill="#333"/><path d="M132.80 296.50L135.65 301.70L129.95 301.70Z" fill="#111"/><path d="M136.00 296.50L138.85 301.70L133.15 301.70Z" fill="#111"/><path d="M139.30 296.50L142.15 301.70L136.45 301.70Z" fill="#111"/><path d="M132.90 318.30L135.75 323.50L130.05 323.50Z" fill="#111"/><path d="M139.40 318.30L142.25 323.50L136.55 323.50Z" fill="#111"/><rect x="238.20" y="318.45" width="11.6" height="5.0" fill="#111"/><rect x="241.50" y="296.20" width="5.4" height="5.4" fill="#111"/><rect x="243.35" y="310.10" width="1.3" height="10.20" fill="#444"/><rect x="236.80" y="314.45" width="14.40" height="1.3" fill="#333"/><rect x="240.00" y="309.45" width="8.00" height="1.3" fill="#333"/><rect x="240.00" y="319.65" width="8.00" height="1.3" fill="#333"/><rect x="265.15" y="258.50" width="1.3" height="14.20" fill="#444"/><rect x="258.60" y="264.65" width="14.40" height="1.3" fill="#333"/><rect x="261.80" y="257.85" width="8.00" height="1.3" fill="#333"/><rect x="261.80" y="272.05" width="8.00" height="1.3" fill="#333"/><path d="M269.60 246.40L272.45 251.60L266.75 251.60Z" fill="#111"/><path d="M262.30 253.20L265.15 258.40L259.45 258.40Z" fill="#111"/><path d="M262.30 268.30L265.15 273.50L259.45 273.50Z" fill="#111"/><path d="M269.50 275.20L272.35 280.40L266.65 280.40Z" fill="#111"/><path d="M265.80 289.60L268.65 294.80L262.95 294.80Z" fill="#111"/><rect x="371.30" y="318.45" width="11.6" height="5.0" fill="#111"/><rect x="398.55" y="265.30" width="1.3" height="7.30" fill="#444"/><rect x="392.00" y="267.55" width="14.40" height="1.3" fill="#333"/><rect x="395.20" y="264.65" width="8.00" height="1.3" fill="#333"/><rect x="395.20" y="271.95" width="8.00" height="1.3" fill="#333"/><path d="M398.70 257.40L401.55 262.60L395.85 262.60Z" fill="#111"/><path d="M402.10 262.40L404.95 267.60L399.25 267.60Z" fill="#111"/><path d="M395.50 268.40L398.35 273.60L392.65 273.60Z" fill="#111"/><path d="M400.00 268.40L402.85 273.60L397.15 273.60Z" fill="#111"/><path d="M398.70 279.40L401.55 284.60L395.85 284.60Z" fill="#111"/><rect x="108.20" y="488.45" width="11.6" height="5.0" fill="#111"/><rect x="135.05" y="461.00" width="1.3" height="14.20" fill="#444"/><rect x="128.50" y="466.85" width="14.40" height="1.3" fill="#333"/><rect x="131.70" y="460.35" width="8.00" height="1.3" fill="#333"/><rect x="131.70" y="474.55" width="8.00" height="1.3" fill="#333"/><path d="M132.50 454.40L135.35 459.60L129.65 459.60Z" fill="#111"/><path d="M138.80 454.40L141.65 459.60L135.95 459.60Z" fill="#111"/><path d="M135.20 460.10L138.05 465.30L132.35 465.30Z" fill="#111"/><path d="M132.60 489.10L135.45 494.30L129.75 494.30Z" fill="#111"/><path d="M139.00 489.10L141.85 494.30L136.15 494.30Z" fill="#111"/><rect x="238.20" y="488.45" width="11.6" height="5.0" fill="#111"/><rect x="265.25" y="434.00" width="1.3" height="10.80" fill="#444"/><rect x="258.70" y="438.35" width="14.40" height="1.3" fill="#333"/><rect x="261.90" y="433.35" width="8.00" height="1.3" fill="#333"/><rect x="261.90" y="444.15" width="8.00" height="1.3" fill="#333"/><path d="M264.90 423.40L267.75 428.60L262.05 428.60Z" fill="#111"/><path d="M268.30 434.90L271.15 440.10L265.45 440.10Z" fill="#111"/><path d="M261.50 438.70L264.35 443.90L258.65 443.90Z" fill="#111"/><path d="M264.70 438.70L267.55 443.90L261.85 443.90Z" fill="#111"/><path d="M264.60 460.10L267.45 465.30L261.75 465.30Z" fill="#111"/><rect x="371.30" y="488.45" width="11.6" height="5.0" fill="#111"/><rect x="398.35" y="421.50" width="1.3" height="14.80" fill="#444"/><rect x="391.80" y="428.55" width="14.40" height="1.3" fill="#333"/><rect x="395.00" y="420.85" width="8.00" height="1.3" fill="#333"/><rect x="395.00" y="435.65" width="8.00" height="1.3" fill="#333"/><path d="M395.50 416.30L398.35 421.50L392.65 421.50Z" fill="#111"/><path d="M399.50 419.10L402.35 424.30L396.65 424.30Z" fill="#111"/><path d="M402.80 419.10L405.65 424.30L399.95 424.30Z" fill="#111"/><path d="M399.00 441.60L401.85 446.80L396.15 446.80Z" fill="#111"/><path d="M399.00 454.40L401.85 459.60L396.15 459.60Z" fill="#111"/>
<text font-size="13.3" font-weight="bold" text-anchor="middle" transform="translate(17.0 95.00) rotate(-90) scale(1.025 1)">Homologous</text><text font-size="13.3" font-weight="bold" text-anchor="middle" transform="translate(32.5 95.00) rotate(-90) scale(1.025 1)">(CA/09)</text><text font-size="13.3" font-weight="bold" text-anchor="middle" transform="translate(17.0 268.30) rotate(-90) scale(1.025 1)">Heterologous</text><text font-size="13.3" font-weight="bold" text-anchor="middle" transform="translate(32.5 268.30) rotate(-90) scale(1.025 1)">(SG/15)</text><text font-size="13.3" font-weight="bold" text-anchor="middle" transform="translate(17.0 438.30) rotate(-90) scale(1.025 1)">Heterologous</text><text font-size="13.3" font-weight="bold" text-anchor="middle" transform="translate(32.5 438.30) rotate(-90) scale(1.025 1)">(DH/07)</text><text transform="translate(114.00 527.90) scale(1 1.1)" font-size="11.7" font-weight="bold" text-anchor="middle" stroke="#111" stroke-width="0.3">After the</text><text transform="translate(114.00 542.30) scale(1 1.1)" font-size="11.7" font-weight="bold" text-anchor="middle" stroke="#111" stroke-width="0.3">1st vaccination</text><text transform="translate(244.00 527.90) scale(1 1.1)" font-size="11.7" font-weight="bold" text-anchor="middle" stroke="#111" stroke-width="0.3">After the</text><text transform="translate(244.00 542.30) scale(1 1.1)" font-size="11.7" font-weight="bold" text-anchor="middle" stroke="#111" stroke-width="0.3">2nd vaccination</text><text transform="translate(377.10 527.90) scale(1 1.1)" font-size="11.7" font-weight="bold" text-anchor="middle" stroke="#111" stroke-width="0.3">After the</text><text transform="translate(377.10 542.30) scale(1 1.1)" font-size="11.7" font-weight="bold" text-anchor="middle" stroke="#111" stroke-width="0.3">3rd vaccination</text>
</svg>
</body></html>
